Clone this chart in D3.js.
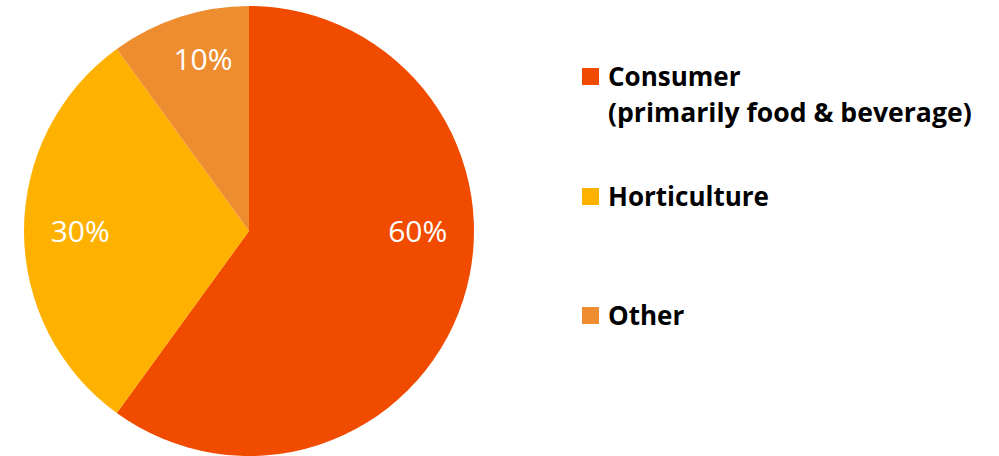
<!DOCTYPE html>
<html>
<head>
<meta charset="utf-8">
<script src="https://cdn.jsdelivr.net/npm/d3@7"></script>
<style>
  html, body { margin: 0; padding: 0; background: #fff; }
  svg { display: block; }
</style>
</head>
<body>
<svg id="chart" width="999" height="456"></svg>
<script>
// ---- data ----
const categories = ["Consumer", "Horticulture", "Other"];
const legendLines = [["Consumer", "(primarily food & beverage)"], ["Horticulture"], ["Other"]];
const values = [60, 30, 10];
const valueLabels = ["60%", "30%", "10%"];
const colors = ["#F14B00", "#FFB100", "#EE8D30"];

// ---- layout ----
const width = 999, height = 456;
const cx = 249, cy = 231, radius = 225;
// label placement like Excel's best-fit (angle in degrees clockwise from top, radius fraction)
const labelAngleOverride = [90, null, 345];
const labelRadiusFrac = [0.75, 0.75, 0.79];

const svg = d3.select("#chart");
const g = svg.append("g").attr("transform", `translate(${cx},${cy})`);

const pie = d3.pie().sort(null).value(d => d)(values);
const arc = d3.arc().innerRadius(0).outerRadius(radius);

g.selectAll("path.slice")
  .data(pie)
  .join("path")
  .attr("class", "slice")
  .attr("d", arc)
  .attr("fill", (d, i) => colors[i]);

function labelPos(d, i) {
  const a = labelAngleOverride[i] != null ? labelAngleOverride[i] * Math.PI / 180 : (d.startAngle + d.endAngle) / 2;
  const r = radius * labelRadiusFrac[i];
  return [Math.sin(a) * r, -Math.cos(a) * r];
}

g.selectAll("text.pct")
  .data(pie)
  .join("text")
  .attr("class", "pct")
  .attr("x", (d, i) => labelPos(d, i)[0])
  .attr("y", (d, i) => labelPos(d, i)[1])
  .attr("dy", "0.36em")
  .attr("text-anchor", "middle")
  .attr("font-family", "'Open Sans', sans-serif")
  .attr("font-size", 30)
  .attr("fill", "#ffffff")
  .text((d, i) => valueLabels[i]);

// ---- legend ----
const legendX = 582, legendTextX = 608;
const legendRowY = [86, 206, 325]; // baselines
const lineH = 36;
const legend = svg.append("g");
categories.forEach((c, i) => {
  const row = legend.append("g");
  row.append("rect")
    .attr("x", legendX).attr("y", legendRowY[i] - 18)
    .attr("width", 17).attr("height", 17)
    .attr("fill", colors[i]);
  const t = row.append("text")
    .attr("x", legendTextX).attr("y", legendRowY[i])
    .attr("font-family", "'Open Sans', sans-serif")
    .attr("font-weight", "bold")
    .attr("font-size", 26)
    .attr("fill", "#000");
  legendLines[i].forEach((ln, j) => {
    t.append("tspan").attr("x", legendTextX).attr("dy", j === 0 ? 0 : lineH)
      .attr("font-size", j === 0 ? 26 : 26.6)
      .text(ln);
  });
});
</script>
</body>
</html>
